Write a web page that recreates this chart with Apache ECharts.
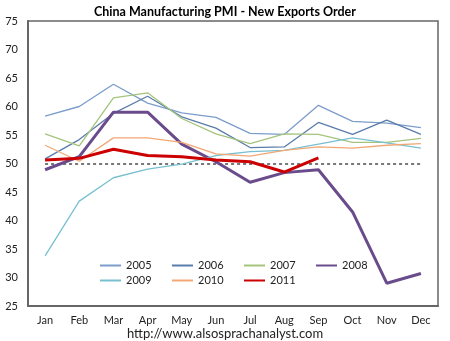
<!DOCTYPE html>
<html>
<head>
<meta charset="utf-8">
<script src="https://cdn.jsdelivr.net/npm/echarts@6/dist/echarts.min.js"></script>
<style>html,body{margin:0;padding:0;background:#fff}#c{width:450px;height:341px}</style>
</head>
<body>
<div id="c"></div>
<script>
const months = ['Jan','Feb','Mar','Apr','May','Jun','Jul','Aug','Sep','Oct','Nov','Dec'];
const years = ['2005','2006','2007','2008','2009','2010','2011'];
const y2005 = [58.3, 60.0, 63.9, 60.6, 58.9, 58.1, 55.3, 55.1, 60.2, 57.4, 57.1, 56.3];
const y2006 = [50.8, 54.2, 58.8, 61.8, 58.2, 56.2, 52.8, 52.9, 57.2, 55.1, 57.6, 55.1];
const y2007 = [55.2, 53.1, 61.5, 62.4, 57.9, 55.2, 53.5, 55.2, 55.1, 53.7, 53.7, 54.4];
const y2008 = [48.9, 51.2, 59.0, 59.0, 53.4, 50.3, 46.7, 48.4, 48.9, 41.5, 29.0, 30.7];
const y2009 = [33.8, 43.4, 47.5, 49.0, 49.9, 51.4, 52.1, 52.3, 53.4, 54.5, 53.6, 52.7];
const y2010 = [53.2, 50.4, 54.5, 54.5, 53.7, 51.7, 51.3, 52.3, 52.9, 52.7, 53.2, 53.5];
const y2011 = [50.6, 50.9, 52.5, 51.4, 51.2, 50.6, 50.3, 48.5, 51.0];
const THRESHOLD = 50;
const titleText = 'China Manufacturing PMI - New Exports Order';
const sourceText = 'http://www.alsosprachanalyst.com';

const values = [y2005, y2006, y2007, y2008, y2009, y2010, y2011];
const colors = ['#7c9ccc', '#5a7cab', '#a4c47c', '#6a4c8c', '#78c0d0', '#f2a874', '#cc0000'];
const widths = [1.3, 1.3, 1.3, 3, 1.3, 1.3, 3];

const series = years.map((y, i) => ({
  name: y,
  type: 'line',
  data: values[i],
  symbol: 'none',
  color: colors[i],
  lineStyle: { width: widths[i], color: colors[i] },
  z: 3 + i,
  animation: false
}));
series[0].markLine = {
  silent: true,
  symbol: 'none',
  z: 1,
  label: { show: false },
  lineStyle: { color: '#777', type: [3, 3], width: 2 },
  data: [[{ coord: [months[0], THRESHOLD] }, { coord: [months[months.length - 1], THRESHOLD] }]]
};

const chart = echarts.init(document.getElementById('c'), null, { renderer: 'canvas' });
chart.setOption({
  animation: false,
  backgroundColor: '#fff',
  title: {
    text: titleText,
    left: 'center',
    top: 0,
    textStyle: { fontFamily: 'Lato', fontWeight: 'bold', fontSize: 12.5, color: '#000' }
  },
  grid: {
    left: 28, right: 12, top: 21, bottom: 35,
    show: true, borderColor: '#666', borderWidth: 1.5
  },
  xAxis: {
    type: 'category',
    data: months,
    boundaryGap: true,
    axisLine: { lineStyle: { color: '#666', width: 2 } },
    axisTick: { show: false },
    axisLabel: { fontFamily: 'Lato', fontSize: 11, color: '#222', margin: 9 },
    splitLine: { show: false }
  },
  yAxis: {
    type: 'value',
    min: 25, max: 75, interval: 5,
    axisLine: { show: true, lineStyle: { color: '#666', width: 2 } },
    axisTick: { show: false },
    axisLabel: { fontFamily: 'Lato', fontSize: 11, color: '#222', margin: 10 },
    splitLine: { show: false }
  },
  legend: {
    data: years,
    left: 99, top: 258,
    padding: 0,
    width: 290,
    itemGap: 0,
    itemWidth: 21, itemHeight: 15,
    itemStyle: { opacity: 0 },
    textStyle: { fontFamily: 'Lato', fontSize: 11, color: '#222', width: 45, lineHeight: 15 }
  },
  graphic: [{
    type: 'text',
    left: 'center',
    top: 327,
    style: { text: sourceText, font: '13px Lato', fill: '#222' }
  }],
  series: series
});
</script>
</body>
</html>
